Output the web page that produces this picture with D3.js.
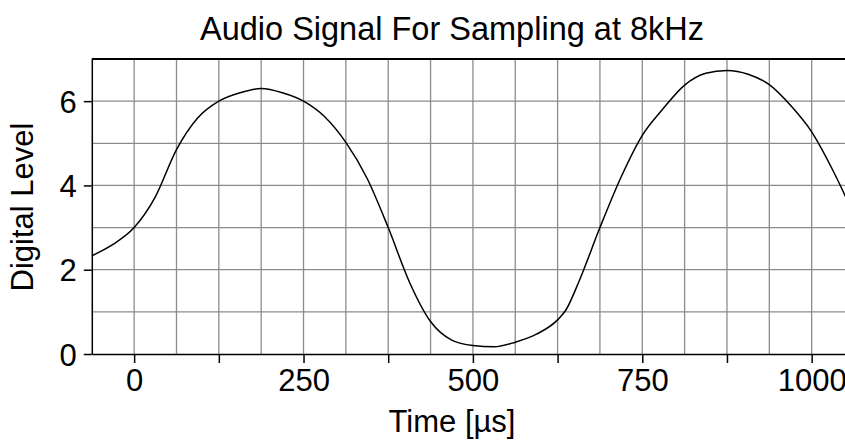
<!DOCTYPE html>
<html>
<meta charset="utf-8">
<title>Audio Signal</title>
<style>
    body { margin: 0; background: #fff; }
    text { font-family: "Liberation Sans", Arial, sans-serif; fill: #000; }
    .grid line { stroke: #8c8c8c; stroke-width: 1.3px; }
    .axis path, .axis line { stroke: #000; stroke-width: 1.5px; }
    .frame { stroke: #000; stroke-width: 2px; }
    .line { fill: none; stroke: #000; stroke-width: 1.5px; }
</style>
<script src="https://d3js.org/d3.v7.min.js" charset="utf-8"></script>
<body>
<script>
    // samples (time in µs, digital level)
    let times = [-62.5, -31.25, 0, 31.25, 62.5, 93.75, 125, 156.25, 187.5, 218.75,
        250, 281.25, 312.5, 343.75, 375, 406.25, 437.5, 468.75, 500, 531.25,
        562.5, 593.75, 625, 637.5, 656.25, 687.5, 718.75, 750, 781.25, 812.5,
        843.75, 875, 906.25, 937.5, 968.75, 1000, 1031.25, 1062.5]
    let levels = [2.33, 2.6, 3.0, 3.73, 4.85, 5.6, 6.0, 6.2, 6.3, 6.2,
        6.0, 5.63, 5.02, 4.17, 3.0, 1.71, 0.77, 0.33, 0.2, 0.17,
        0.28, 0.47, 0.81, 1.05, 1.71, 3.0, 4.2, 5.19, 5.83, 6.38,
        6.66, 6.73, 6.64, 6.39, 5.9, 5.27, 4.36, 3.3]
    let xTickLabels = [0, 250, 500, 750, 1000]
    let yTickLabels = [0, 2, 4, 6]

    let W = 845, H = 441
    let x = d3.scaleLinear().domain([-62.5, 1062.5]).range([91.8, 854])
    let y = d3.scaleLinear().domain([0, 7]).range([354, 59])

    let svg = d3.select("body").append("svg").attr("width", W).attr("height", H)

    svg.append("defs").append("clipPath").attr("id", "plotclip")
        .append("rect")
        .attr("x", x(-62.5)).attr("y", y(7))
        .attr("width", W - x(-62.5)).attr("height", y(0) - y(7))

    // grid
    let grid = svg.append("g").attr("class", "grid")
    grid.selectAll("line.v")
        .data(d3.range(0, 1062.5, 62.5))
        .enter().append("line").attr("class", "v")
        .attr("x1", d => x(d)).attr("x2", d => x(d))
        .attr("y1", y(0)).attr("y2", y(7))
    grid.selectAll("line.h")
        .data(d3.range(1, 7))
        .enter().append("line").attr("class", "h")
        .attr("x1", x(-62.5)).attr("x2", W)
        .attr("y1", d => y(d)).attr("y2", d => y(d))

    // signal
    let pts = times.map((t, i) => [t, levels[i]])
    let line = d3.line()
        .curve(d3.curveMonotoneX)
        .x(d => x(d[0]))
        .y(d => y(d[1]))
    svg.append("g").attr("clip-path", "url(#plotclip)")
        .append("path")
        .datum(pts)
        .attr("class", "line")
        .attr("d", line)

    // axes
    let xAxis = d3.axisBottom(x)
        .tickValues(d3.range(0, 1062.5, 125))
        .tickFormat(d => xTickLabels.includes(d) ? d : "")
        .tickSize(9).tickSizeOuter(0).tickPadding(6)
    let gx = svg.append("g").attr("class", "axis")
        .attr("transform", `translate(0,${y(0)})`)
        .call(xAxis)
    gx.selectAll("text").style("font-size", "31px")

    let yAxis = d3.axisLeft(y)
        .tickValues(yTickLabels)
        .tickFormat(d3.format("d"))
        .tickSize(8).tickSizeOuter(0).tickPadding(7)
    let gy = svg.append("g").attr("class", "axis")
        .attr("transform", `translate(${x(-62.5)},0)`)
        .call(yAxis)
    gy.selectAll("text").style("font-size", "31px").attr("dy", "0.36em")

    svg.append("line").attr("class", "frame")
        .attr("x1", x(-62.5)).attr("x2", W)
        .attr("y1", y(7)).attr("y2", y(7))

    // labels
    svg.append("text")
        .attr("x", 452).attr("y", 40)
        .attr("text-anchor", "middle")
        .style("font-size", "32.5px")
        .text("Audio Signal For Sampling at 8kHz")
    svg.append("text")
        .attr("x", 452).attr("y", 432)
        .attr("text-anchor", "middle")
        .style("font-size", "31px")
        .text("Time [µs]")
    svg.append("text")
        .attr("transform", "translate(33,207) rotate(-90)")
        .attr("text-anchor", "middle")
        .style("font-size", "31px")
        .text("Digital Level")
</script>
</body>
</html>
